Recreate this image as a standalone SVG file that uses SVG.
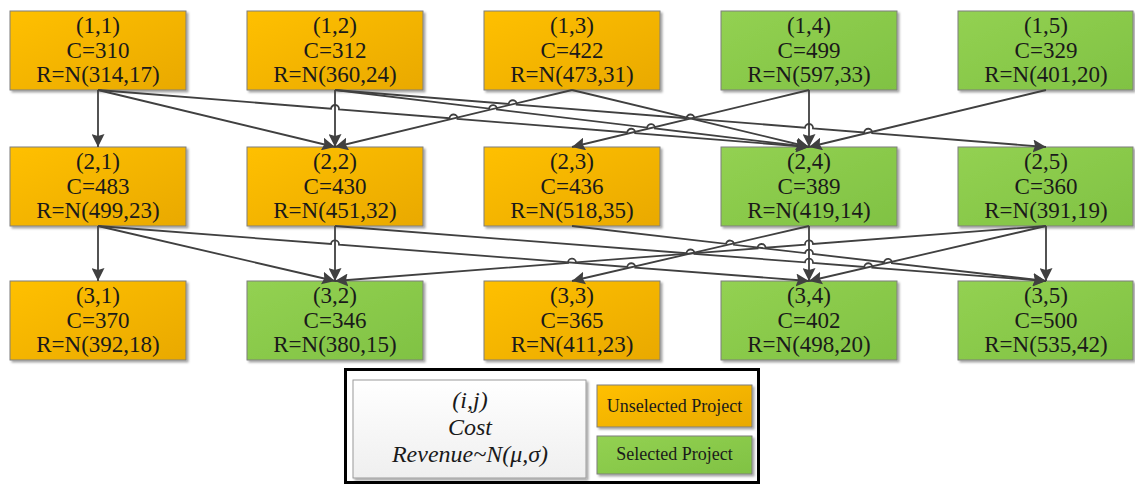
<svg xmlns="http://www.w3.org/2000/svg" width="1135" height="484" viewBox="0 0 1135 484">
<defs>
<linearGradient id="gO" x1="0" y1="0" x2="1" y2="1"><stop offset="0" stop-color="#FFC000"/><stop offset="1" stop-color="#E9A900"/></linearGradient>
<linearGradient id="gG" x1="0" y1="0" x2="1" y2="1"><stop offset="0" stop-color="#93D152"/><stop offset="1" stop-color="#80C243"/></linearGradient>
<linearGradient id="gW" x1="0" y1="0" x2="0" y2="1"><stop offset="0" stop-color="#FFFFFF"/><stop offset="1" stop-color="#EFEFEF"/></linearGradient>
<filter id="sh" x="-10%" y="-10%" width="125%" height="130%"><feDropShadow dx="2" dy="2" stdDeviation="1.2" flood-color="#000" flood-opacity="0.35"/></filter>
<marker id="ar" markerUnits="userSpaceOnUse" markerWidth="13" markerHeight="13" refX="13" refY="6.5" orient="auto"><path d="M0,0 L13,6.5 L0,13 L2,6.5 z" fill="#404040"/></marker>
<style>
.o{fill:url(#gO);stroke:#7F7F7F;stroke-width:1;filter:url(#sh)}
.g{fill:url(#gG);stroke:#7F7F7F;stroke-width:1;filter:url(#sh)}
.t{font-family:"Liberation Serif","DejaVu Serif",serif;font-size:23px;fill:#1A1A1A;text-anchor:middle}
.li{font-family:"Liberation Serif","DejaVu Serif",serif;font-size:24px;font-style:italic;fill:#1A1A1A;text-anchor:middle}
.ls{font-family:"Liberation Serif","DejaVu Serif",serif;font-size:18px;fill:#1A1A1A;text-anchor:middle}
.c{fill:none;stroke:#404040;stroke-width:1.8;marker-end:url(#ar)}
</style>
</defs>
<rect width="1135" height="484" fill="#FFFFFF"/>

<g id="n11"><rect class="o" x="10" y="11" width="176" height="79"/><text class="t" x="98" y="33">(1,1)</text><text class="t" x="98" y="57.5">C=310</text><text class="t" x="98" y="82">R=N(314,17)</text></g>
<g id="n12"><rect class="o" x="247" y="11" width="176" height="79"/><text class="t" x="335" y="33">(1,2)</text><text class="t" x="335" y="57.5">C=312</text><text class="t" x="335" y="82">R=N(360,24)</text></g>
<g id="n13"><rect class="o" x="484" y="11" width="176" height="79"/><text class="t" x="572" y="33">(1,3)</text><text class="t" x="572" y="57.5">C=422</text><text class="t" x="572" y="82">R=N(473,31)</text></g>
<g id="n14"><rect class="g" x="721" y="11" width="176" height="79"/><text class="t" x="809" y="33">(1,4)</text><text class="t" x="809" y="57.5">C=499</text><text class="t" x="809" y="82">R=N(597,33)</text></g>
<g id="n15"><rect class="g" x="958" y="11" width="175" height="79"/><text class="t" x="1046" y="33">(1,5)</text><text class="t" x="1046" y="57.5">C=329</text><text class="t" x="1046" y="82">R=N(401,20)</text></g>

<g id="n21"><rect class="o" x="10" y="147" width="176" height="79"/><text class="t" x="98" y="169">(2,1)</text><text class="t" x="98" y="193.5">C=483</text><text class="t" x="98" y="218">R=N(499,23)</text></g>
<g id="n22"><rect class="o" x="247" y="147" width="176" height="79"/><text class="t" x="335" y="169">(2,2)</text><text class="t" x="335" y="193.5">C=430</text><text class="t" x="335" y="218">R=N(451,32)</text></g>
<g id="n23"><rect class="o" x="484" y="147" width="176" height="79"/><text class="t" x="572" y="169">(2,3)</text><text class="t" x="572" y="193.5">C=436</text><text class="t" x="572" y="218">R=N(518,35)</text></g>
<g id="n24"><rect class="g" x="721" y="147" width="176" height="79"/><text class="t" x="809" y="169">(2,4)</text><text class="t" x="809" y="193.5">C=389</text><text class="t" x="809" y="218">R=N(419,14)</text></g>
<g id="n25"><rect class="g" x="958" y="147" width="175" height="79"/><text class="t" x="1046" y="169">(2,5)</text><text class="t" x="1046" y="193.5">C=360</text><text class="t" x="1046" y="218">R=N(391,19)</text></g>

<g id="n31"><rect class="o" x="10" y="281" width="176" height="79"/><text class="t" x="98" y="303">(3,1)</text><text class="t" x="98" y="327.5">C=370</text><text class="t" x="98" y="352">R=N(392,18)</text></g>
<g id="n32"><rect class="g" x="247" y="281" width="176" height="79"/><text class="t" x="335" y="303">(3,2)</text><text class="t" x="335" y="327.5">C=346</text><text class="t" x="335" y="352">R=N(380,15)</text></g>
<g id="n33"><rect class="o" x="484" y="281" width="176" height="79"/><text class="t" x="572" y="303">(3,3)</text><text class="t" x="572" y="327.5">C=365</text><text class="t" x="572" y="352">R=N(411,23)</text></g>
<g id="n34"><rect class="g" x="721" y="281" width="176" height="79"/><text class="t" x="809" y="303">(3,4)</text><text class="t" x="809" y="327.5">C=402</text><text class="t" x="809" y="352">R=N(498,20)</text></g>
<g id="n35"><rect class="g" x="958" y="281" width="175" height="79"/><text class="t" x="1046" y="303">(3,5)</text><text class="t" x="1046" y="327.5">C=500</text><text class="t" x="1046" y="352">R=N(535,42)</text></g>

<g id="connectors">
<path class="c" d="M98,90 L98,147"/>
<path class="c" d="M98,90 L335,147"/>
<path class="c" d="M98,90 L331.01,108.68 A4,4 0 0 1 338.99,109.32 L449.51,118.18 A4,4 0 0 1 457.49,118.82 L627.21,132.43 A4,4 0 0 1 635.19,133.07 L809,147"/>
<path class="c" d="M335,90 L335,147"/>
<path class="c" d="M335,90 L489.03,108.52 A4,4 0 0 1 496.97,109.48 L647.03,127.52 A4,4 0 0 1 654.97,128.48 L809,147"/>
<path class="c" d="M335,90 L508.71,103.93 A4,4 0 0 1 516.69,104.57 L686.41,118.17 A4,4 0 0 1 694.39,118.81 L805.01,127.68 A4,4 0 0 1 812.99,128.32 L864.21,132.43 A4,4 0 0 1 872.19,133.07 L1046,147"/>
<path class="c" d="M572,90 L335,147"/>
<path class="c" d="M572,90 L809,147"/>
<path class="c" d="M809,90 L572,147"/>
<path class="c" d="M809,90 L809,147"/>
<path class="c" d="M1046,90 L809,147"/>

<path class="c" d="M98,226 L98,281"/>
<path class="c" d="M98,226 L335,281"/>
<path class="c" d="M98,226 L331.01,244.02 A4,4 0 0 1 338.99,244.64 L627.31,266.94 A4,4 0 0 1 635.29,267.56 L809,281"/>
<path class="c" d="M335,226 L335,281"/>
<path class="c" d="M335,226 L686.51,253.19 A4,4 0 0 1 694.49,253.81 L805.01,262.36 A4,4 0 0 1 812.99,262.98 L864.31,266.94 A4,4 0 0 1 872.29,267.56 L1046,281"/>
<path class="c" d="M572,226 L726.03,243.87 A4,4 0 0 1 733.97,244.79 L805.03,253.04 A4,4 0 0 1 812.97,253.96 L884.03,262.21 A4,4 0 0 1 891.97,263.13 L1046,281"/>
<path class="c" d="M809,226 L572,281"/>
<path class="c" d="M809,226 L809,281"/>
<path class="c" d="M1046,226 L812.99,244.02 A4,4 0 0 0 805.01,244.64 L765.59,247.69 A4,4 0 0 0 757.61,248.31 L575.99,262.36 A4,4 0 0 0 568.01,262.98 L335,281"/>
<path class="c" d="M1046,226 L809,281"/>
<path class="c" d="M1046,226 L1046,281"/>
</g>

<g id="legend">
<rect x="345.5" y="369.5" width="413" height="113" fill="#FFFFFF" stroke="#000000" stroke-width="3"/>
<rect x="353" y="380" width="233" height="98" fill="url(#gW)" stroke="#9A9A9A" stroke-width="1" filter="url(#sh)"/>
<text class="li" x="470" y="408">(i,j)</text>
<text class="li" x="470" y="435">Cost</text>
<text class="li" x="470" y="462">Revenue~N(μ,σ)</text>
<g id="leg-unselected"><rect class="o" x="597" y="385" width="155" height="42"/><text class="ls" x="674.5" y="412">Unselected Project</text></g>
<g id="leg-selected"><rect class="g" x="597" y="436" width="155" height="38"/><text class="ls" x="674.5" y="460">Selected Project</text></g>
</g>
</svg>
